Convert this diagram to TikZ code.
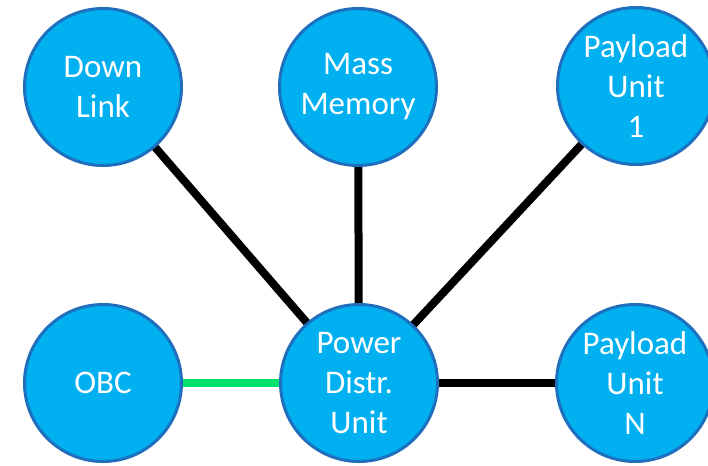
\documentclass[tikz,border=0pt]{standalone}
\usepackage{fontspec}
\setmainfont{Carlito}
\definecolor{unitfill}{RGB}{0,176,240}
\definecolor{unitedge}{RGB}{30,112,190}
\definecolor{datalink}{RGB}{0,224,110}
\begin{document}
\begin{tikzpicture}[x=1pt,y=-1pt,
  unit/.style={circle, fill=unitfill, draw=unitedge, line width=3pt,
    minimum size=157pt, inner sep=0pt, text=white, align=center,
    font=\fontsize{33}{40}\selectfont},
  powerline/.style={line width=8pt, black},
  dataline/.style={line width=8pt, datalink}]
  \useasboundingbox (0,0) rectangle (708,465);
  \clip (0,0) rectangle (708,465);
  % connectors first, so the units sit on top of them
  \coordinate (cDL) at (103,87);
  \coordinate (cMM) at (358,87);
  \coordinate (cP1) at (636,86);
  \coordinate (cOBC) at (103,383);
  \coordinate (cPDU) at (359,383);
  \coordinate (cPN) at (635,383);
  \draw[powerline] (cDL) -- (cPDU);
  \draw[powerline] (cMM) -- (cPDU);
  \draw[powerline] (cP1) -- (cPDU);
  \draw[powerline] (cPDU) -- (cPN);
  \draw[dataline] (cOBC) -- (cPDU);
  % units
  \node[unit] (dl) at (cDL) {Down\\Link};
  \node[unit] (mm) at (cMM) {Mass\\Memory};
  \node[unit] (p1) at (cP1) {Payload\\Unit\\1};
  \node[unit] (obc) at (cOBC) {OBC};
  \node[unit] (pdu) at (cPDU) {Power\\Distr.\\Unit};
  \node[unit] (pn) at (cPN) {Payload\\Unit\\N};
\end{tikzpicture}
\end{document}
